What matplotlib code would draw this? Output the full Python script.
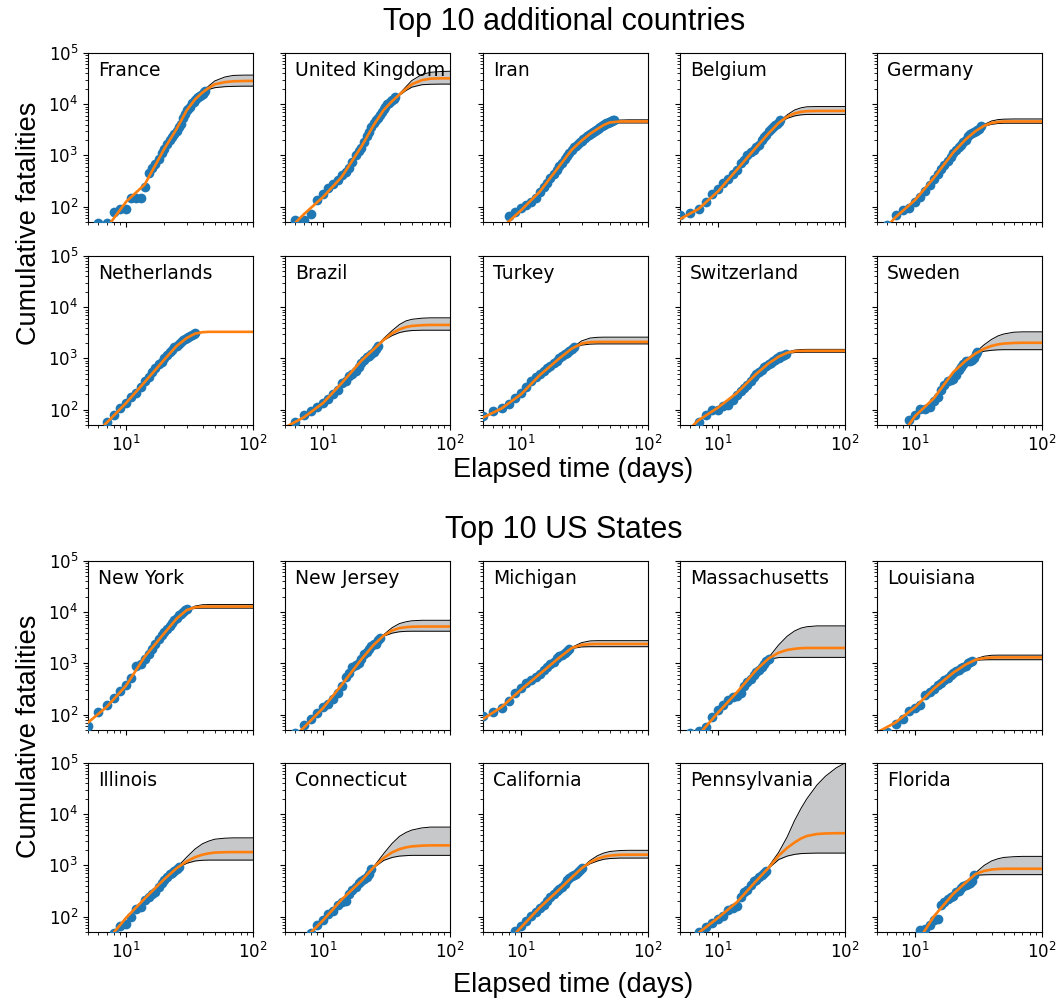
import matplotlib
matplotlib.use('Agg')
import matplotlib.pyplot as plt

# grids (days) on which the fitted curve and the confidence band were read
T_FIT = [5, 7, 10, 14, 20, 25, 30, 35, 40, 45, 50, 60, 70, 85, 100]
T_BAND = [25, 30, 35, 40, 45, 50, 60, 70, 85, 100]

COUNTRIES = ['France', 'United Kingdom', 'Iran', 'Belgium', 'Germany',
             'Netherlands', 'Brazil', 'Turkey', 'Switzerland', 'Sweden']
STATES = ['New York', 'New Jersey', 'Michigan', 'Massachusetts', 'Louisiana',
          'Illinois', 'Connecticut', 'California', 'Pennsylvania', 'Florida']

# ---- countries -------------------------------------------------------------
FRANCE_DAY0 = 6
FRANCE_DEATHS = [48, 48, 79, 91, 91, 149, 149, 149, 244, 451, 563, 676, 862, 1102,
                 1333, 1698, 1997, 2317, 2611, 3030, 3532, 4043, 5398, 6520, 7574,
                 8093, 8926, 10343, 10887, 12228, 13215, 13851, 14412, 14986,
                 15712, 17167, 17920]
FRANCE_FIT = [15, 38, 125, 270, 1350, 3300, 7600, 12500, 17000, 21000, 24500,
              27000, 28000, 28400, 28500]
FRANCE_LOW = [3300, 7600, 12500, 16500, 19500, 21000, 22000, 22300, 22500, 22500]
FRANCE_HIGH = [3300, 7600, 12500, 17500, 23000, 28500, 34000, 36500, 37000, 37000]

UK_DAY0 = 6
UK_DEATHS = [55, 55, 71, 137, 177, 233, 281, 335, 422, 465, 578, 759, 1019, 1228,
             1408, 1789, 2352, 2921, 3605, 4313, 4934, 5373, 6159, 7097, 7978,
             8958, 9875, 10612, 11329, 12107, 12868, 13729]
UK_FIT = [30, 70, 155, 380, 1480, 3900, 7700, 11500, 15500, 20000, 24500, 29500,
          31500, 32000, 32000]
UK_LOW = [3900, 7700, 11500, 15000, 18500, 21500, 24000, 24500, 24700, 24700]
UK_HIGH = [3900, 7700, 11500, 16000, 22000, 29000, 38000, 42000, 43500, 44000]

IRAN_DAY0 = 8
IRAN_DEATHS = [66, 77, 92, 107, 124, 145, 194, 237, 291, 354, 429, 514, 611, 724,
               853, 988, 1135, 1284, 1433, 1556, 1685, 1812, 1934, 2077, 2234,
               2378, 2517, 2640, 2757, 2898, 3036, 3160, 3294, 3452, 3603, 3739,
               3872, 3993, 4110, 4232, 4357, 4474, 4585, 4683, 4777, 4869, 4958]
IRAN_FIT = [20, 38, 85, 195, 620, 1280, 1950, 2650, 3300, 3950, 4400, 4600, 4600,
            4600, 4600]
IRAN_LOW = [1280, 1950, 2650, 3300, 3900, 4250, 4300, 4300, 4300, 4300]
IRAN_HIGH = [1280, 1950, 2650, 3300, 4000, 4550, 4900, 4950, 4950, 4950]

BELGIUM_DAY0 = 5
BELGIUM_DEATHS = [67, 75, 88, 122, 178, 220, 289, 353, 431, 513, 705, 828, 1011,
                  1143, 1283, 1447, 1632, 2035, 2240, 2523, 3019, 3346, 3600, 3903,
                  4157, 4440, 4857]
BELGIUM_FIT = [57, 90, 200, 520, 1450, 2700, 4300, 5700, 6600, 7100, 7300, 7400,
               7400, 7400, 7400]
BELGIUM_LOW = [2700, 4250, 5300, 5900, 6200, 6300, 6300, 6300, 6300, 6300]
BELGIUM_HIGH = [2700, 4400, 6200, 7700, 8500, 8900, 9000, 9000, 9000, 9000]

GERMANY_DAY0 = 6
GERMANY_DEATHS = [44, 67, 84, 94, 123, 157, 206, 267, 342, 433, 533, 645, 775, 920,
                  1107, 1275, 1444, 1584, 1810, 2016, 2349, 2607, 2767, 2871, 3022,
                  3194, 3294, 3804]
GERMANY_FIT = [25, 62, 135, 360, 1150, 2050, 3000, 3800, 4300, 4500, 4600, 4600,
               4600, 4600, 4600]
GERMANY_LOW = [2050, 3000, 3700, 4050, 4200, 4250, 4250, 4250, 4250, 4250]
GERMANY_HIGH = [2050, 3050, 4000, 4700, 5000, 5100, 5150, 5150, 5150, 5150]

NETHERLANDS_DAY0 = 7
NETHERLANDS_DEATHS = [58, 77, 107, 137, 180, 214, 277, 357, 435, 547, 640, 772, 865,
                      1040, 1175, 1341, 1490, 1656, 1771, 1874, 2108, 2255, 2403,
                      2520, 2653, 2747, 2833, 2955, 3145]
NETHERLANDS_FIT = [25, 55, 135, 345, 950, 1750, 2500, 3050, 3250, 3300, 3300, 3300,
                   3300, 3300, 3300]
NETHERLANDS_LOW = [1750, 2500, 3050, 3230, 3260, 3260, 3260, 3260, 3260, 3260]
NETHERLANDS_HIGH = [1750, 2500, 3060, 3280, 3340, 3350, 3350, 3350, 3350, 3350]

BRAZIL_DAY0 = 6
BRAZIL_DEATHS = [57, 77, 92, 111, 136, 159, 201, 240, 324, 359, 445, 486, 564, 686,
                 819, 950, 1057, 1124, 1223, 1328, 1532, 1736]
BRAZIL_FIT = [45, 70, 135, 330, 900, 1500, 2300, 3100, 3700, 4100, 4300, 4450, 4500,
              4500, 4500]
BRAZIL_LOW = [1500, 2250, 2800, 3200, 3400, 3500, 3550, 3550, 3550, 3550]
BRAZIL_HIGH = [1500, 2450, 3500, 4600, 5400, 5800, 6100, 6200, 6200, 6200]

TURKEY_DAY0 = 5
TURKEY_DEATHS = [75, 92, 108, 131, 168, 214, 277, 356, 425, 501, 574, 649, 725, 812,
                 908, 1006, 1101, 1198, 1296, 1403, 1518, 1643]
TURKEY_FIT = [70, 105, 200, 470, 1000, 1550, 1950, 2080, 2100, 2100, 2100, 2100,
              2100, 2100, 2100]
TURKEY_LOW = [1550, 1820, 1900, 1920, 1920, 1920, 1920, 1920, 1920, 1920]
TURKEY_HIGH = [1570, 2200, 2500, 2580, 2600, 2600, 2600, 2600, 2600, 2600]

SWISS_DAY0 = 7
SWISS_DEATHS = [56, 80, 98, 98, 120, 122, 153, 191, 231, 264, 300, 359, 433, 488,
                536, 591, 666, 715, 765, 821, 895, 948, 1002, 1036, 1106, 1138,
                1174, 1239]
SWISS_FIT = [28, 62, 110, 210, 500, 800, 1080, 1290, 1380, 1405, 1410, 1410, 1410,
             1410, 1410]
SWISS_LOW = [800, 1070, 1250, 1300, 1315, 1320, 1320, 1320, 1320, 1320]
SWISS_HIGH = [800, 1090, 1330, 1450, 1490, 1500, 1500, 1500, 1500, 1500]

SWEDEN_DAY0 = 9
SWEDEN_DEATHS = [62, 77, 105, 105, 110, 146, 180, 239, 308, 358, 373, 401, 477, 591,
                 687, 793, 870, 887, 899, 919, 1033, 1203, 1333]
SWEDEN_FIT = [8, 22, 75, 165, 540, 900, 1250, 1550, 1750, 1880, 1950, 2000, 2020,
              2020, 2020]
SWEDEN_LOW = [900, 1230, 1380, 1440, 1470, 1480, 1480, 1480, 1480, 1480]
SWEDEN_HIGH = [900, 1330, 1850, 2350, 2750, 3000, 3250, 3300, 3300, 3300]

# ---- US states -------------------------------------------------------------
NY_DAY0 = 5
NY_DEATHS = [60, 114, 157, 210, 285, 385, 519, 884, 965, 1218, 1550, 1941, 2373,
             2935, 3565, 4159, 4758, 5489, 6268, 7067, 7844, 8627, 9385, 10056,
             10834, 11586]
NY_FIT = [70, 140, 370, 1350, 3900, 7500, 11000, 12500, 12850, 12900, 12900, 12900,
          12900, 12900, 12900]
NY_LOW = [7500, 11000, 11900, 12000, 12000, 12000, 12000, 12000, 12000, 12000]
NY_HIGH = [7500, 11100, 13200, 14000, 14100, 14100, 14100, 14100, 14100, 14100]

NJ_DAY0 = 6
NJ_DEATHS = [44, 62, 81, 108, 140, 161, 198, 267, 355, 537, 646, 846, 917, 1003,
             1232, 1504, 1700, 1932, 2183, 2350, 2443, 2805, 3156]
NJ_FIT = [25, 55, 135, 380, 1200, 2300, 3500, 4400, 4900, 5100, 5200, 5250, 5250,
          5250, 5250]
NJ_LOW = [2300, 3400, 3900, 4150, 4230, 4250, 4250, 4250, 4250, 4250]
NJ_HIGH = [2300, 3650, 5000, 6000, 6500, 6800, 6950, 6950, 6950, 6950]

MI_DAY0 = 5
MI_DEATHS = [92, 111, 132, 184, 259, 337, 417, 479, 540, 617, 727, 845, 959, 1076,
             1281, 1392, 1487, 1602, 1718, 1921]
MI_FIT = [82, 140, 310, 620, 1300, 2000, 2300, 2380, 2400, 2400, 2400, 2400, 2400,
          2400, 2400]
MI_LOW = [1950, 2100, 2120, 2120, 2120, 2120, 2120, 2120, 2120, 2120]
MI_HIGH = [2050, 2550, 2750, 2780, 2780, 2780, 2780, 2780, 2780, 2780]

MA_DAY0 = 6
MA_DEATHS = [44, 48, 56, 89, 122, 154, 192, 216, 231, 260, 356, 433, 503, 599, 686,
             756, 844, 957, 1108, 1245]
MA_FIT = [18, 40, 110, 270, 750, 1250, 1620, 1830, 1930, 1980, 2000, 2000, 2000,
          2000, 2000]
MA_LOW = [1200, 1300, 1310, 1310, 1310, 1310, 1310, 1310, 1310, 1310]
MA_HIGH = [1300, 2300, 3400, 4300, 4900, 5200, 5400, 5400, 5400, 5400]

LA_DAY0 = 6
LA_DEATHS = [46, 65, 83, 119, 137, 151, 239, 273, 310, 370, 409, 477, 512, 582, 652,
             702, 755, 806, 840, 884, 1013, 1072, 1103]
LA_FIT = [45, 70, 140, 320, 660, 950, 1180, 1270, 1300, 1310, 1310, 1310, 1310,
          1310, 1310]
LA_LOW = [950, 1150, 1175, 1180, 1180, 1180, 1180, 1180, 1180, 1180]
LA_HIGH = [950, 1230, 1380, 1440, 1450, 1450, 1450, 1450, 1450, 1450]

IL_DAY0 = 8
IL_DEATHS = [47, 66, 73, 99, 141, 157, 210, 243, 274, 307, 380, 462, 528, 596, 677,
             720, 794, 868, 948]
IL_FIT = [12, 33, 95, 225, 540, 880, 1200, 1450, 1620, 1720, 1780, 1810, 1820,
          1820, 1820]
IL_LOW = [860, 1100, 1220, 1260, 1270, 1270, 1270, 1270, 1270, 1270]
IL_HIGH = [900, 1450, 2100, 2650, 3000, 3250, 3400, 3450, 3450, 3450]

CT_DAY0 = 8
CT_DEATHS = [48, 69, 85, 112, 131, 165, 189, 206, 277, 335, 380, 448, 494, 554, 603,
             671, 868]
CT_FIT = [14, 35, 85, 215, 500, 920, 1400, 1800, 2080, 2250, 2350, 2430, 2460,
          2460, 2460]
CT_LOW = [900, 1250, 1430, 1520, 1550, 1570, 1570, 1570, 1570, 1570]
CT_HIGH = [940, 1700, 2700, 3700, 4400, 4900, 5400, 5600, 5600, 5600]

CA_DAY0 = 9
CA_DEATHS = [53, 65, 81, 101, 124, 150, 171, 203, 237, 276, 319, 343, 374, 442, 510,
             561, 609, 651, 687, 758, 801, 885]
CA_FIT = [10, 24, 62, 150, 340, 580, 880, 1150, 1350, 1480, 1550, 1610, 1620, 1620,
          1620]
CA_LOW = [580, 870, 1080, 1220, 1320, 1360, 1390, 1390, 1390, 1390]
CA_HIGH = [580, 890, 1250, 1550, 1750, 1870, 1950, 1970, 1970, 1970]

PA_DAY0 = 7
PA_DEATHS = [49, 63, 74, 90, 102, 136, 150, 162, 240, 309, 338, 416, 494, 507, 584,
             647, 707, 787]
PA_FIT = [25, 48, 95, 190, 500, 900, 1550, 2200, 2800, 3350, 3750, 4100, 4200, 4250,
          4250]
PA_LOW = [880, 1300, 1520, 1640, 1700, 1720, 1740, 1740, 1740, 1740]
PA_HIGH = [950, 1800, 3600, 7500, 13000, 20000, 37000, 55000, 80000, 100000]

FL_DAY0 = 11
FL_DEATHS = [55, 56, 70, 85, 88, 170, 194, 221, 236, 254, 296, 323, 354, 390, 419,
             438, 461, 499, 640]
FL_FIT = [2, 7, 27, 100, 280, 460, 680, 780, 830, 850, 860, 860, 860, 860, 860]
FL_LOW = [460, 640, 655, 660, 660, 660, 660, 660, 660, 660]
FL_HIGH = [460, 720, 1000, 1220, 1350, 1430, 1480, 1500, 1500, 1500]

PANELS = [
    (FRANCE_DAY0, FRANCE_DEATHS, FRANCE_FIT, FRANCE_LOW, FRANCE_HIGH),
    (UK_DAY0, UK_DEATHS, UK_FIT, UK_LOW, UK_HIGH),
    (IRAN_DAY0, IRAN_DEATHS, IRAN_FIT, IRAN_LOW, IRAN_HIGH),
    (BELGIUM_DAY0, BELGIUM_DEATHS, BELGIUM_FIT, BELGIUM_LOW, BELGIUM_HIGH),
    (GERMANY_DAY0, GERMANY_DEATHS, GERMANY_FIT, GERMANY_LOW, GERMANY_HIGH),
    (NETHERLANDS_DAY0, NETHERLANDS_DEATHS, NETHERLANDS_FIT, NETHERLANDS_LOW, NETHERLANDS_HIGH),
    (BRAZIL_DAY0, BRAZIL_DEATHS, BRAZIL_FIT, BRAZIL_LOW, BRAZIL_HIGH),
    (TURKEY_DAY0, TURKEY_DEATHS, TURKEY_FIT, TURKEY_LOW, TURKEY_HIGH),
    (SWISS_DAY0, SWISS_DEATHS, SWISS_FIT, SWISS_LOW, SWISS_HIGH),
    (SWEDEN_DAY0, SWEDEN_DEATHS, SWEDEN_FIT, SWEDEN_LOW, SWEDEN_HIGH),
    (NY_DAY0, NY_DEATHS, NY_FIT, NY_LOW, NY_HIGH),
    (NJ_DAY0, NJ_DEATHS, NJ_FIT, NJ_LOW, NJ_HIGH),
    (MI_DAY0, MI_DEATHS, MI_FIT, MI_LOW, MI_HIGH),
    (MA_DAY0, MA_DEATHS, MA_FIT, MA_LOW, MA_HIGH),
    (LA_DAY0, LA_DEATHS, LA_FIT, LA_LOW, LA_HIGH),
    (IL_DAY0, IL_DEATHS, IL_FIT, IL_LOW, IL_HIGH),
    (CT_DAY0, CT_DEATHS, CT_FIT, CT_LOW, CT_HIGH),
    (CA_DAY0, CA_DEATHS, CA_FIT, CA_LOW, CA_HIGH),
    (PA_DAY0, PA_DEATHS, PA_FIT, PA_LOW, PA_HIGH),
    (FL_DAY0, FL_DEATHS, FL_FIT, FL_LOW, FL_HIGH),
]
NAMES = COUNTRIES + STATES

# ---- layout (pixels of a 1057x998 canvas) ---------------------------------
W, H = 1057, 998
COL_LEFT = [88, 285, 483, 680, 877]
ROW_TOP = [53, 256, 561, 763]
AX_W, AX_H = 165, 169

plt.rcParams['xtick.labelsize'] = 12
plt.rcParams['ytick.labelsize'] = 12
LABEL_FONT = ['Liberation Sans', 'DejaVu Sans']

fig = plt.figure(figsize=(W / 100, H / 100), dpi=100)

for i, (day0, deaths, fit, low, high) in enumerate(PANELS):
    r, c = divmod(i, 5)
    ax = fig.add_axes([COL_LEFT[c] / W, 1 - (ROW_TOP[r] + AX_H) / H,
                       AX_W / W, AX_H / H])
    ax.fill_between(T_BAND, low, high, color='#c7c8c9', lw=0, zorder=1)
    ax.plot(T_BAND, low, color='k', lw=0.7, zorder=2)
    ax.plot(T_BAND, high, color='k', lw=0.7, zorder=2)
    days = list(range(day0, day0 + len(deaths)))
    ax.plot(days, deaths, 'o', color='#1f77b4', ms=7, mew=0, zorder=3)
    ax.plot(T_FIT, fit, color='#ff7f0e', lw=1.9, zorder=4)
    ax.set_xscale('log')
    ax.set_yscale('log')
    ax.set_xlim(5, 100)
    ax.set_ylim(50, 1e5)
    ax.text(0.06, 0.95, NAMES[i], transform=ax.transAxes, va='top', ha='left',
            fontsize=13.5)
    if c != 0:
        ax.tick_params(labelleft=False)
    if r in (0, 2):
        ax.tick_params(labelbottom=False)

fig.text(564 / W, 1 - 22 / H, 'Top 10 additional countries', ha='center',
         va='center', fontsize=22, family=LABEL_FONT)
fig.text(564 / W, 1 - 530 / H, 'Top 10 US States', ha='center',
         va='center', fontsize=22, family=LABEL_FONT)
for y in (470, 985):
    fig.text(573 / W, 1 - y / H, 'Elapsed time (days)', ha='center',
             va='center', fontsize=19.5, family=LABEL_FONT)
for y in (223, 736):
    fig.text(29 / W, 1 - y / H, 'Cumulative fatalities', ha='center',
             va='center', rotation=90, fontsize=19.5, family=LABEL_FONT)

fig.savefig('out.png', dpi=100)
